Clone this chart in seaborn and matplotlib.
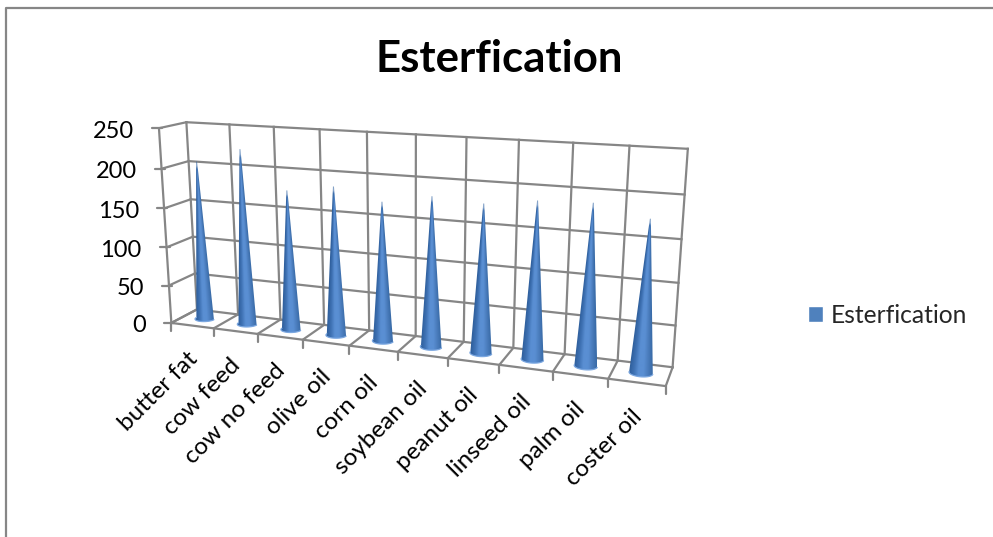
import numpy as np
import pandas as pd
import seaborn as sns
import matplotlib.pyplot as plt
from matplotlib.patches import Patch, Polygon

TITLE = 'Esterfication'
categories = ['butter fat', 'cow feed', 'cow no feed', 'olive oil', 'corn oil',
              'soybean oil', 'peanut oil', 'linseed oil', 'palm oil', 'coster oil']
values = [206, 225, 178, 187, 173, 184, 180, 188, 190, 177]
y_ticks = [0, 50, 100, 150, 200, 250]

GRID = '#868686'
LEGEND_BLUE = '#4f81bd'
FONT = 'Lato'
LW = 1.6

# corners of the 3d box on the page: (category, value, depth) -> pixel
box_3d = [(0, 250, 0), (0, 0, 0), (0, 250, 1), (0, 0, 1),
          (10, 250, 1), (10, 0, 1), (10, 0, 0), (5, 250, 1)]
box_px = [(158, 128.3), (172.3, 322.3), (187.3, 122.3), (196, 310),
          (687.7, 149), (672.7, 366.7), (665.7, 386.7), (416, 134)]


def fit_projection(pts, px):
    """Least squares fit of a 3x4 camera matrix (last entry fixed at 1)."""
    rows, rhs = [], []
    for (x, y, z), (u, v) in zip(pts, px):
        rows.append([x, y, z, 1, 0, 0, 0, 0, -u * x, -u * y, -u * z])
        rows.append([0, 0, 0, 0, x, y, z, 1, -v * x, -v * y, -v * z])
        rhs += [u, v]
    sol = np.linalg.lstsq(np.array(rows, float), np.array(rhs, float), rcond=None)[0]
    return np.append(sol, 1).reshape(3, 4)


P = fit_projection(box_3d, box_px)


def project(x, v, d):
    x, v, d = np.broadcast_arrays(np.asarray(x, float), np.asarray(v, float), np.asarray(d, float))
    w = P[2, 0] * x + P[2, 1] * v + P[2, 2] * d + P[2, 3]
    u = (P[0, 0] * x + P[0, 1] * v + P[0, 2] * d + P[0, 3]) / w
    t = (P[1, 0] * x + P[1, 1] * v + P[1, 2] * d + P[1, 3]) / w
    return u, t


def seg(ax, a, b):
    u, t = project([a[0], b[0]], [a[1], b[1]], [a[2], b[2]])
    ax.plot(u, t, color=GRID, lw=LW, solid_capstyle='projecting', zorder=1)


def draw_box(ax):
    n = len(categories)
    for v in y_ticks:
        seg(ax, (0, v, 0), (0, v, 1))
        seg(ax, (0, v, 1), (n, v, 1))
        u, t = project(0, v, 0)
        ax.plot([u - 7, u + 3], [t, t], color=GRID, lw=LW, zorder=1)
        ax.text(u - 25, t + 1, str(v), ha='right', va='center_baseline', fontsize=17, family=FONT, color='black')
    seg(ax, (0, 0, 0), (0, 250, 0))
    seg(ax, (0, 0, 0), (n, 0, 0))
    for i in range(n + 1):
        seg(ax, (i, 0, 0), (i, 0, 1))
        seg(ax, (i, 0, 1), (i, 250, 1))
        u, t = project(i, 0, 0)
        ax.plot([u, u], [t, t + 8], color=GRID, lw=LW, zorder=1)


def draw_cone(ax, i, height, cmap, radius=0.21, depth=0.5):
    cx = i + 0.5
    ang = np.linspace(np.pi, 2 * np.pi, 61)
    bu, bt = project(cx + radius * np.cos(ang), 0, depth + 0.2 * np.sin(ang))
    au, at = project(cx, height, depth)
    au, at = float(au), float(at)

    # shading goes across the cone, so it is worked out row by row
    x0, x1, y0, y1 = bu.min(), bu.max(), at, bt.max()
    xs = np.linspace(x0, x1, int((x1 - x0) * 4) + 2)
    ys = np.linspace(y0, y1, int((y1 - y0) * 4) + 2)
    X, Y = np.meshgrid(xs, ys)
    h = np.clip((Y - at) / (bt[0] - at), 1e-3, 1)
    left = au + (bu[0] - au) * h
    right = au + (bu[-1] - au) * h
    rgba = cmap(np.clip((X - left) / (right - left), 0, 1))
    rgba[..., 3] = np.clip(h / 0.05, 0.6, 1)

    im = ax.imshow(rgba, extent=(x0, x1, y1, y0), origin='upper', aspect='auto', zorder=3, interpolation='bilinear')
    outline = Polygon(np.vstack([[au - 0.5, at], [au + 0.5, at], np.column_stack([bu[::-1], bt[::-1]])]),
                      transform=ax.transData, closed=True)
    im.set_clip_path(outline)
    ax.plot(bu, bt, color='#7ba7e0', lw=0.9, zorder=4)


df = pd.DataFrame({'category': categories, 'value': values})

sns.set_theme(style='white')
plt.rcParams['font.family'] = [FONT, 'DejaVu Sans']

fig = plt.figure(figsize=(9.93, 5.37), dpi=100)
ax = fig.add_axes([0, 0, 1, 1])
ax.axis('off')

# chart frame, cut off by the page at the bottom and right
ax.plot([6, 6, 993], [537, 7.5, 7.5], color=GRID, lw=LW, zorder=1)

draw_box(ax)

cone_cmap = sns.blend_palette(['#2f5f9c', '#3f72b4', '#5a8fd3', '#5a8fd3', '#4a7cbc', '#386aa6'], as_cmap=True)
for i, row in df.iterrows():
    draw_cone(ax, i, row['value'], cone_cmap)
    u, t = project(i + 0.5, 0, 0)
    ax.text(u - 6, t + 23, row['category'], rotation=45, rotation_mode='anchor',
            ha='right', va='top', fontsize=17.5, family=FONT, color='black')

ax.text(499.5, 71.7, TITLE, ha='center', va='baseline', fontsize=31.5, fontweight='bold', family=FONT, color='black')

ax.set_xlim(0, 993)
ax.set_ylim(537, 0)

ax.legend(handles=[Patch(facecolor=LEGEND_BLUE, label=TITLE)], loc='center left',
          bbox_to_anchor=(808, 315.5), bbox_transform=ax.transData, frameon=False,
          fontsize=17.7, handlelength=0.61, handleheight=0.61, handletextpad=0.33,
          borderpad=0, borderaxespad=0)

fig.savefig('out.png', dpi=100)
